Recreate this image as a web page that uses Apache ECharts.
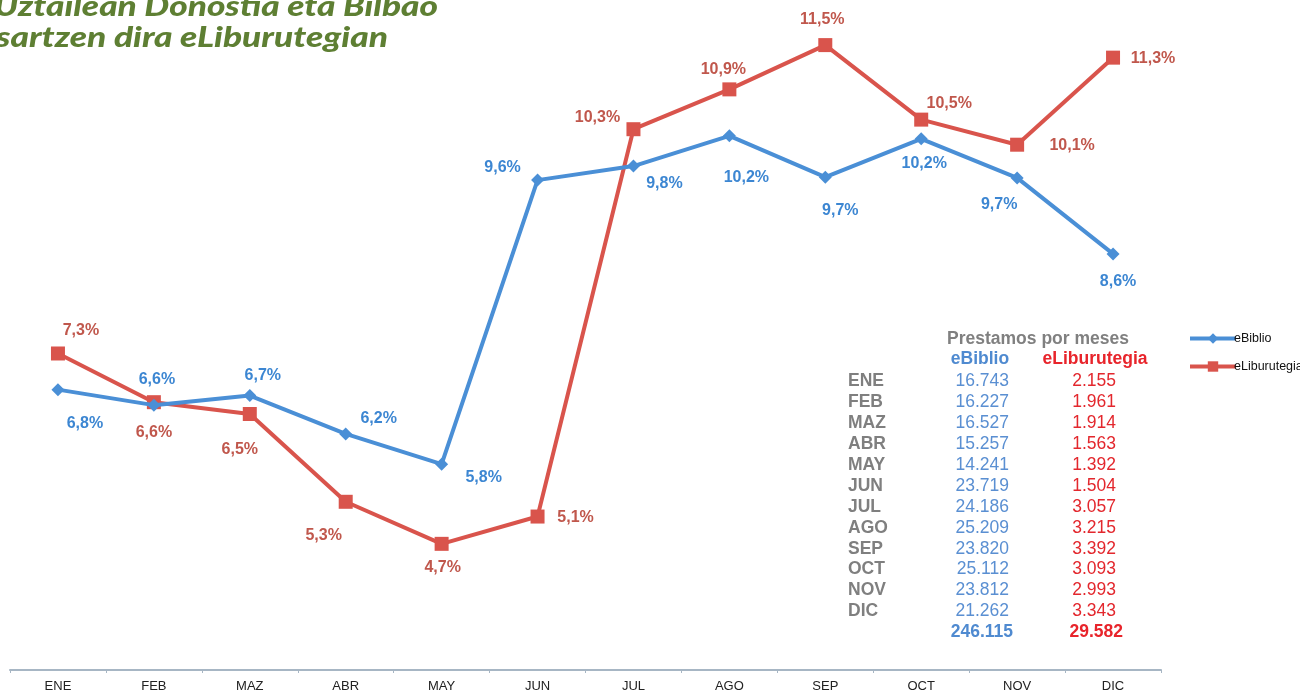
<!DOCTYPE html>
<html>
<head>
<meta charset="utf-8">
<script src="https://cdn.jsdelivr.net/npm/echarts@6/dist/echarts.min.js"></script>
<style>
html,body{margin:0;padding:0;background:#fff;}
#main{width:1300px;height:693px;}
</style>
</head>
<body>
<div id="main"></div>
<script>
// ---- data ----
var months = ['ENE','FEB','MAZ','ABR','MAY','JUN','JUL','AGO','SEP','OCT','NOV','DIC'];
var eBiblioPct = [6.80, 6.59, 6.72, 6.20, 5.79, 9.64, 9.83, 10.24, 9.68, 10.20, 9.67, 8.64];
var eLiburutegiaPct = [7.29, 6.63, 6.47, 5.28, 4.71, 5.08, 10.33, 10.87, 11.47, 10.46, 10.12, 11.30];
var eBiblioLoans = ['16.743','16.227','16.527','15.257','14.241','23.719','24.186','25.209','23.820','25.112','23.812','21.262'];
var eLiburutegiaLoans = ['2.155','1.961','1.914','1.563','1.392','1.504','3.057','3.215','3.392','3.093','2.993','3.343'];
var eBiblioTotal = '246.115';
var eLiburutegiaTotal = '29.582';
var titleLines = ['Uztailean Donostia eta Bilbao', 'sartzen dira eLiburutegian'];
var tableTitle = 'Prestamos por meses';
var seriesNames = ['eBiblio', 'eLiburutegia'];

// ---- label placement (style) ----
var blueOffsets = [[27,34],[3,-26],[13,-20],[33,-15],[42,13],[-35,-13],[31,17],[17,42],[15,33],[3,25],[-18,27],[5,28]];
var redOffsets = [[23,-23],[0,30],[-10,36],[-22,34],[1,24],[38,1],[-36,-12],[-6,-20],[-3,-26],[28,-16],[55,1],[40,1]];

var BLUE = '#4a8fd6', RED = '#d9544c';
var BLUE_LBL = '#3c86d2', RED_LBL = '#c0574c';

function fmt(v){ return v.toFixed(1).replace('.', ',') + '%'; }
function mk(vals, offs){
  return vals.map(function(v,i){
    return {value:v, label:{offset:offs[i]}};
  });
}

var chart = echarts.init(document.getElementById('main'));

var titleFont = 'italic 900 29px "Lato", "Open Sans", sans-serif';
var mctx = document.createElement('canvas').getContext('2d');
mctx.font = titleFont;
function scaleFor(text, target){ var w = mctx.measureText(text).width; return w > 0 ? target / w : 1; }

var graphics = [];
graphics.push({type:'text', x:-6, y:-8, scaleX:scaleFor(titleLines[0], 444), style:{text:titleLines[0], font:titleFont, fill:'#5e7f33', x:0, y:0, verticalAlign:'top'}});
graphics.push({type:'text', x:-4, y:23, scaleX:scaleFor(titleLines[1], 392), style:{text:titleLines[1], font:titleFont, fill:'#5e7f33', x:0, y:0, verticalAlign:'top'}});

var tf = '17.5px "Liberation Sans", Arial, sans-serif';
var tfb = 'bold 17.5px "Liberation Sans", Arial, sans-serif';
graphics.push({type:'text', x:1038, y:339, style:{text:tableTitle, font:tfb, fill:'#808080', align:'center', verticalAlign:'middle'}});
graphics.push({type:'text', x:980, y:359, style:{text:seriesNames[0], font:tfb, fill:'#4f8ad0', align:'center', verticalAlign:'middle'}});
graphics.push({type:'text', x:1095, y:359, style:{text:seriesNames[1], font:tfb, fill:'#e8242b', align:'center', verticalAlign:'middle'}});
for (var i=0;i<months.length;i++){
  var yy = 381.5 + i*20.9;
  graphics.push({type:'text', x:848, y:yy, style:{text:months[i], font:tfb, fill:'#7f7f7f', align:'left', verticalAlign:'middle'}});
  graphics.push({type:'text', x:1009, y:yy, style:{text:eBiblioLoans[i], font:tf, fill:'#5a8fd2', align:'right', verticalAlign:'middle'}});
  graphics.push({type:'text', x:1116, y:yy, style:{text:eLiburutegiaLoans[i], font:tf, fill:'#e3272d', align:'right', verticalAlign:'middle'}});
}
graphics.push({type:'text', x:1013, y:632.5, style:{text:eBiblioTotal, font:tfb, fill:'#4f8ad0', align:'right', verticalAlign:'middle'}});
graphics.push({type:'text', x:1123, y:632.5, style:{text:eLiburutegiaTotal, font:tfb, fill:'#e8242b', align:'right', verticalAlign:'middle'}});

var labelBase = {show:true, position:'inside', fontSize:16, fontWeight:'bold', fontFamily:'"Liberation Sans", Arial, sans-serif', formatter:function(p){return fmt(p.value);}};

chart.setOption({
  animation:false,
  backgroundColor:'#ffffff',
  grid:{left:10, right:139, top:6, bottom:23},
  legend:{
    orient:'vertical', left:1183, top:327, itemWidth:46, itemHeight:13, itemGap:15,
    lineStyle:{width:4},
    textStyle:{fontSize:12.5, color:'#111', fontFamily:'"Liberation Sans", Arial, sans-serif', padding:[0,0,0,-7]},
    data:seriesNames
  },
  xAxis:{
    type:'category', data:months, boundaryGap:true,
    axisLine:{lineStyle:{color:'#a7b6c4', width:2}},
    axisTick:{show:true, length:3, lineStyle:{color:'#a7b6c4'}},
    axisLabel:{color:'#222', fontSize:13, fontFamily:'"Liberation Sans Narrow", "Liberation Sans", Arial, sans-serif', margin:10}
  },
  yAxis:{type:'value', min:3, max:12, show:false, splitLine:{show:false}},
  series:[
    {name:seriesNames[0], type:'line', data:mk(eBiblioPct, blueOffsets), symbol:'diamond', symbolSize:13,
     lineStyle:{color:BLUE, width:4}, itemStyle:{color:BLUE},
     label:Object.assign({}, labelBase, {color:BLUE_LBL}), z:3},
    {name:seriesNames[1], type:'line', data:mk(eLiburutegiaPct, redOffsets), symbol:'rect', symbolSize:14,
     lineStyle:{color:RED, width:4}, itemStyle:{color:RED},
     label:Object.assign({}, labelBase, {color:RED_LBL}), z:2}
  ],
  graphic:graphics
});
</script>
</body>
</html>
